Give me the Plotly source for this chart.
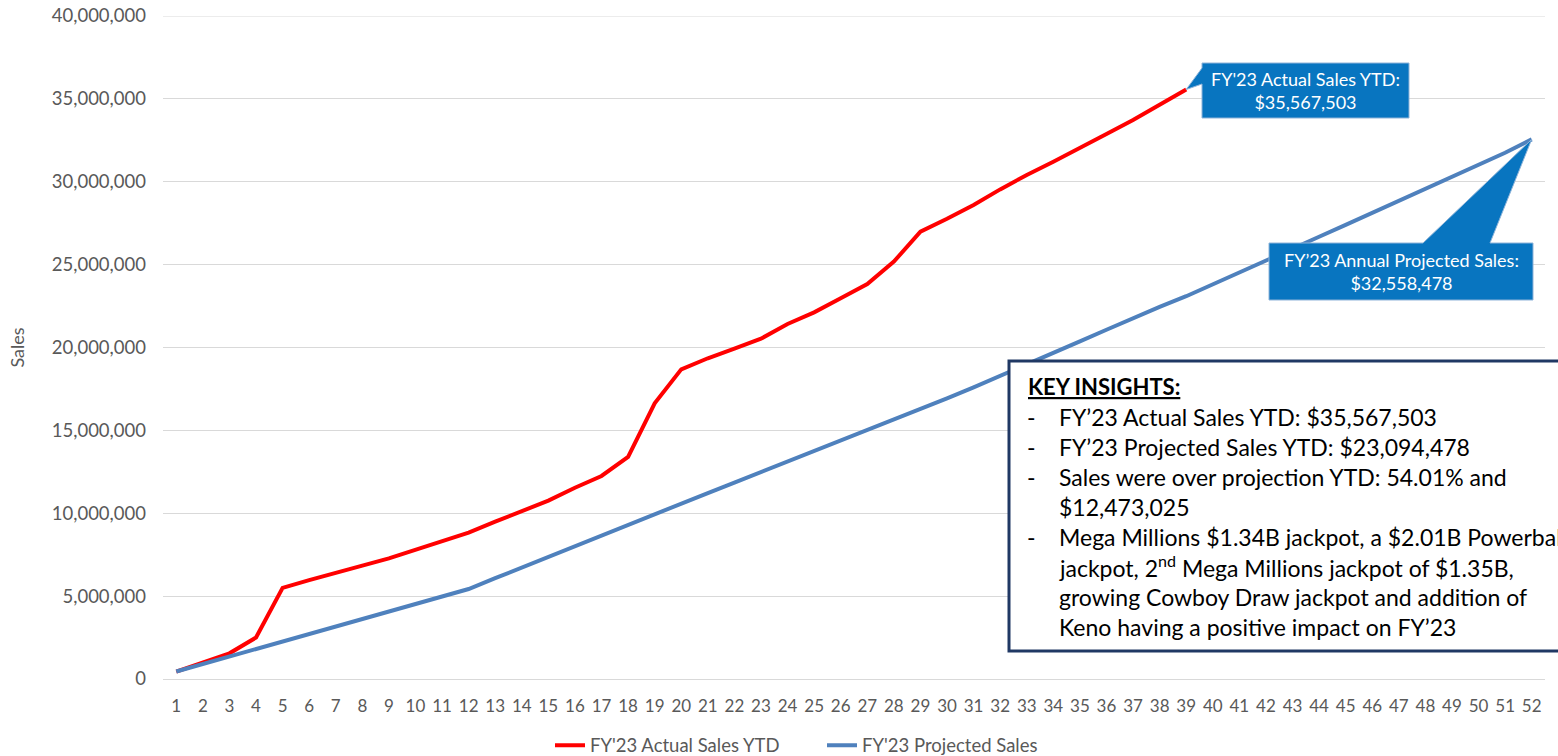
import plotly.graph_objects as go

# weeks of the fiscal year
weeks = list(range(1, 53))

# FY'23 actual sales YTD (cumulative; ends at week 39)
actual_sales = [
    450000, 1000000, 1550000, 2500000, 5500000, 5970000, 6380000, 6840000,
    7280000, 7780000, 8280000, 8830000, 9490000, 10140000, 10760000, 11540000,
    12250000, 13400000, 16630000, 18680000, 19350000, 19930000, 20530000,
    21420000, 22120000, 22970000, 23830000, 25180000, 26990000, 27770000,
    28600000, 29540000, 30410000, 31210000, 32020000, 32880000, 33720000,
    34670000, 35567503,
]

# FY'23 projected sales (cumulative)
projected_sales = [
    450000, 900000, 1350000, 1800000, 2250000, 2700000, 3150000, 3600000,
    4050000, 4500000, 4970000, 5430000, 6080000, 6730000, 7380000, 8030000,
    8680000, 9330000, 9970000, 10600000, 11220000, 11850000, 12480000,
    13100000, 13720000, 14350000, 14980000, 15620000, 16270000, 16930000,
    17600000, 18280000, 18970000, 19670000, 20370000, 21070000, 21770000,
    22450000, 23094478, 23800000, 24520000, 25240000, 25960000, 26680000,
    27400000, 28120000, 28840000, 29560000, 30280000, 31000000, 31750000,
    32558478,
]

y_max = 40000000
y_step = 5000000

series_names = ["FY'23 Actual Sales YTD", "FY'23 Projected Sales"]
callout_actual = "FY'23 Actual Sales YTD:<br>$35,567,503"
callout_projected = "FY’23 Annual Projected Sales:<br>$32,558,478"

insight_title = "<b><u>KEY INSIGHTS:</u></b>"
insight_lines = [
    ("-", "FY’23 Actual Sales YTD: $35,567,503"),
    ("-", "FY’23 Projected Sales YTD: $23,094,478"),
    ("-", "Sales were over projection YTD: 54.01% and"),
    ("", "$12,473,025"),
    ("-", "Mega Millions $1.34B jackpot, a $2.01B Powerball"),
    ("", "jackpot, 2<sup>nd</sup> Mega Millions jackpot of $1.35B,"),
    ("", "growing Cowboy Draw jackpot and addition of"),
    ("", "Keno having a positive impact on FY’23"),
]

FONT = "Lato"
GREY = "#595959"
GRID = "#D9D9D9"
CALLOUT_BLUE = "#0875C0"

W, H = 1558, 756
# plot area in screen pixels: x 163..1545, y 16..679
SX0, SX1, SY0, SY1 = 163, 1545, 16, 679
L, R, T, B = SX0, W - SX1, SY0, H - SY1
PW, PH = SX1 - SX0, SY1 - SY0


def px_to_x(px):
    return 0.5 + (px - SX0) / PW * 52


def py_to_y(py):
    return (SY1 - py) / PH * y_max


def py_to_paper(py):
    return (SY1 - py) / PH


def px_to_paper(px):
    return (px - SX0) / PW


fig = go.Figure()

fig.add_trace(go.Scatter(x=weeks[:len(actual_sales)], y=actual_sales,
                         mode='lines', name=series_names[0],
                         line=dict(color='#FF0000', width=4)))
fig.add_trace(go.Scatter(x=weeks, y=projected_sales,
                         mode='lines', name=series_names[1],
                         line=dict(color='#4F81BD', width=4)))

# top gridline (plotly skips the one on the plot edge)
fig.add_shape(type='line', xref='paper', yref='y', x0=0, x1=1,
              y0=y_max, y1=y_max, line=dict(color=GRID, width=1),
              layer='below')

# callout for actual sales (wedge pointing left to last actual point)
ax, ay = weeks[len(actual_sales) - 1], actual_sales[-1]
bx0, bx1 = px_to_x(1202), px_to_x(1409)
by0, by1 = py_to_y(118), py_to_y(63)
path1 = (f"M{bx0},{by1} L{bx1},{by1} L{bx1},{by0} L{bx0},{by0} "
         f"L{bx0},{py_to_y(84)} L{ax},{ay} L{bx0},{py_to_y(68)} Z")
fig.add_shape(type='path', path=path1, xref='x', yref='y',
              fillcolor=CALLOUT_BLUE, line=dict(color='#8FB4D9', width=1))
fig.add_annotation(x=(bx0 + bx1) / 2, y=(by0 + by1) / 2, xref='x', yref='y',
                   text=callout_actual, showarrow=False,
                   font=dict(family=FONT, size=18, color='white'))

# callout for annual projection (wedge pointing up to week 52)
px_, py_ = weeks[-1], projected_sales[-1]
cx0, cx1 = px_to_x(1269), px_to_x(1533)
cy0, cy1 = py_to_y(300), py_to_y(243)
path2 = (f"M{cx0},{cy1} L{px_to_x(1423)},{cy1} L{px_},{py_} "
         f"L{px_to_x(1490)},{cy1} L{cx1},{cy1} L{cx1},{cy0} L{cx0},{cy0} Z")
fig.add_shape(type='path', path=path2, xref='x', yref='y',
              fillcolor=CALLOUT_BLUE, line=dict(color='#8FB4D9', width=1))
fig.add_annotation(x=(cx0 + cx1) / 2, y=(cy0 + cy1) / 2, xref='x', yref='y',
                   text=callout_projected, showarrow=False,
                   font=dict(family=FONT, size=18, color='white'))

# key insights box, running off the right edge
fig.add_shape(type='rect', xref='paper', yref='paper',
              x0=px_to_paper(1009), x1=1.3,
              y0=py_to_paper(651), y1=py_to_paper(361),
              fillcolor='white', line=dict(color='#203864', width=3))
fig.add_annotation(x=px_to_paper(1026), y=py_to_paper(386), xref='paper',
                   yref='paper', xanchor='left', yanchor='middle',
                   text=insight_title, showarrow=False,
                   font=dict(family=FONT, size=22, color='black'))
for i, (dash, line) in enumerate(insight_lines):
    yy = py_to_paper(416.5 + 30 * i)
    if dash:
        fig.add_annotation(x=px_to_paper(1031), y=yy, xref='paper', yref='paper',
                           xanchor='center', yanchor='middle', text=dash,
                           showarrow=False,
                           font=dict(family=FONT, size=23, color='black'))
    fig.add_annotation(x=px_to_paper(1057), y=yy, xref='paper', yref='paper',
                       xanchor='left', yanchor='middle', text=line,
                       showarrow=False,
                       font=dict(family=FONT, size=23, color='black'))

fig.update_xaxes(range=[0.5, 52.5], tickmode='array', tickvals=weeks,
                 showgrid=False, showline=False, zeroline=False,
                 ticklabelstandoff=15,
                 tickfont=dict(family=FONT, size=17, color=GREY))
fig.update_yaxes(range=[0, y_max], dtick=y_step, tickformat=',d',
                 gridcolor=GRID, gridwidth=1, zeroline=True,
                 zerolinecolor=GRID, zerolinewidth=1, showline=False,
                 ticklabelstandoff=16,
                 tickfont=dict(family=FONT, size=18.5, color=GREY),
                 title=dict(text='Sales', standoff=22,
                            font=dict(family=FONT, size=18, color=GREY)))

fig.update_layout(width=W, height=H,
                  margin=dict(l=L, r=R, t=T, b=B, autoexpand=False),
                  plot_bgcolor='white', paper_bgcolor='white',
                  showlegend=True,
                  legend=dict(orientation='h', x=px_to_paper(550),
                              xanchor='left', y=-0.072, yanchor='top',
                              entrywidth=227, entrywidthmode='pixels',
                              font=dict(family=FONT, size=18.5, color=GREY)))

# drop the default body margin so the figure sits at the page corner
fig.write_html("out.html", config={'displayModeBar': False},
               post_script="document.body.style.margin='0px';")
